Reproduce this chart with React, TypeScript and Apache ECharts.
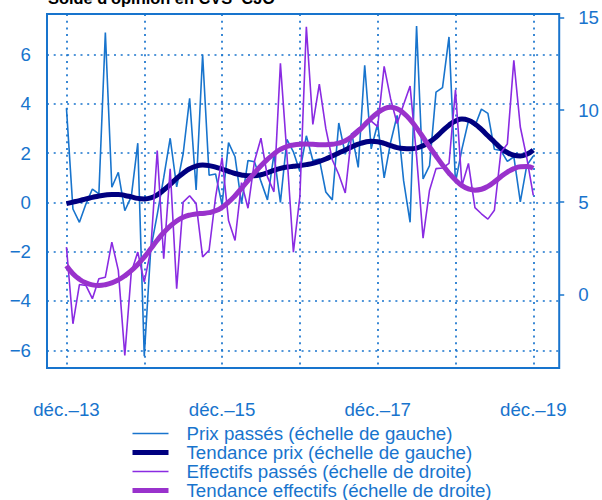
import React, { useEffect, useRef } from 'react';
import * as echarts from 'echarts';

// ---------- data ----------
const MONTH_ABBR = ['janv.', 'févr.', 'mars', 'avr.', 'mai', 'juin', 'juil.', 'août', 'sept.', 'oct.', 'nov.', 'déc.'];
const FIRST_CATEGORY_YEAR = 2013;
const FIRST_CATEGORY_MONTH = 8; // septembre 2013 (axis starts a little before the data)
const N_CATEGORIES = 80;
const DATA_OFFSET = 3; // data starts in déc. 2013

const X_TICK_LABELS = ['déc.–13', 'déc.–15', 'déc.–17', 'déc.–19'];
const LEFT_TICKS = [-6, -4, -2, 0, 2, 4, 6];
const RIGHT_TICKS = [0, 5, 10, 15];

const SERIES_NAMES = [
  'Prix passés (échelle de gauche)',
  'Tendance prix (échelle de gauche)',
  'Effectifs passés (échelle de droite)',
  'Tendance effectifs (échelle de droite)',
];

// déc. 2013 -> déc. 2019, monthly (73 values)
const prixPasses = [
  3.82, -0.27, -0.81, -0.07, 0.54, 0.34, 6.89, 0.61, 1.22, -0.34, 0.23, 2.4,
  -6.24, -1.9, -0.5, 1.0, 2.6, 0.63, 1.97, 4.22, 0.5, 6.0, 1.1, 1.15,
  -0.1, 2.42, 1.85, -0.05, 1.7, 1.65, 0.85, 0.1, 1.95, 0.0, 2.55, 2.05,
  1.25, 2.7, 1.7, 1.76, 0.42, 0.1, 3.22, 1.95, 2.8, 1.42, 5.56, 2.17,
  3.19, 0.99, 2.44, 3.53, 0.88, -0.81, 7.15, 0.95, 1.49, 4.47, 4.65, 6.71,
  0.81, 2.17, 3.3, 3.1, 3.78, 3.61, 2.15, 2.1, 1.66, 1.85, 0.02, 1.5,
  1.88,
];

const tendancePrix = [
  -0.05, 0.01, 0.07, 0.14, 0.2, 0.26, 0.3, 0.32, 0.32, 0.28, 0.22, 0.16,
  0.14, 0.18, 0.3, 0.5, 0.73, 0.97, 1.18, 1.36, 1.47, 1.51, 1.49, 1.43,
  1.35, 1.26, 1.17, 1.11, 1.08, 1.08, 1.12, 1.2, 1.3, 1.38, 1.43, 1.46,
  1.49, 1.53, 1.58, 1.66, 1.76, 1.88, 2.0, 2.12, 2.25, 2.36, 2.44, 2.48,
  2.46, 2.39, 2.3, 2.22, 2.18, 2.17, 2.2, 2.3, 2.45, 2.65, 2.9, 3.13,
  3.3, 3.38, 3.33, 3.18, 2.96, 2.7, 2.45, 2.2, 2.02, 1.91, 1.88, 1.95,
  2.12,
];

const effectifsPasses = [
  2.56, -1.6, 0.53, 0.48, -0.24, 0.84, 0.93, 2.83, 1.3, -3.32, 1.2, 2.29,
  0.66, 2.4, 7.8, 1.93, 6.81, 0.3, 5.0, 5.35, 4.92, 2.03, 2.39, 5.27,
  7.42, 4.0, 2.92, 6.06, 4.67, 7.22, 8.47, 6.37, 5.56, 12.53, 7.6, 2.29,
  5.3, 14.52, 9.22, 11.4, 9.0, 7.3, 6.5, 5.5, 8.7, 9.0, 9.2, 9.4,
  9.1, 12.37, 10.6, 9.27, 10.3, 11.3, 7.5, 3.05, 5.65, 6.82, 6.85, 7.1,
  11.1, 5.9, 7.1, 4.7, 4.37, 4.08, 4.56, 7.7, 8.16, 12.7, 9.08, 7.4,
  5.37,
];

const tendanceEffectifs = [
  1.55, 1.12, 0.82, 0.62, 0.51, 0.48, 0.52, 0.62, 0.78, 1.0, 1.28, 1.62,
  2.02, 2.47, 2.93, 3.35, 3.7, 3.98, 4.18, 4.3, 4.36, 4.39, 4.43, 4.53,
  4.72, 5.0, 5.35, 5.75, 6.17, 6.58, 6.97, 7.32, 7.62, 7.86, 8.02, 8.1,
  8.14, 8.15, 8.14, 8.12, 8.12, 8.14, 8.2, 8.33, 8.55, 8.85, 9.2, 9.55,
  9.85, 10.07, 10.15, 10.07, 9.83, 9.48, 9.03, 8.52, 8.0, 7.5, 7.02, 6.58,
  6.2, 5.9, 5.72, 5.65, 5.7, 5.86, 6.1, 6.38, 6.63, 6.82, 6.92, 6.93,
  6.84,
];

// ---------- helpers ----------
const BLUE = '#1874CD';
const NAVY = '#000080';
const VIOLET = '#8A2BE2';
const ORCHID = '#9932CC';
const FONT = '"Liberation Sans", Arial, Helvetica, sans-serif';

const SERIES_COLORS = [BLUE, NAVY, VIOLET, ORCHID];
const SERIES_WIDTHS = [1.6, 5, 1.6, 5];

const categories: string[] = [];
for (let k = 0; k < N_CATEGORIES; k++) {
  const m = FIRST_CATEGORY_MONTH + k;
  const month = m % 12;
  const year = FIRST_CATEGORY_YEAR + Math.floor(m / 12);
  categories.push(MONTH_ABBR[month] + '–' + String(year % 100).padStart(2, '0'));
}

const pad = (arr: number[]) => {
  const out: (number | null)[] = new Array(N_CATEGORIES).fill(null);
  arr.forEach((v, i) => {
    out[DATA_OFFSET + i] = v;
  });
  return out;
};

const fmtNum = (v: number) => (v < 0 ? '\u2212' + Math.abs(v) : String(v));
const isTick = (list: number[], v: number) => list.some((t) => Math.abs(t - v) < 1e-9);

const dotted = { color: BLUE, width: 1.7, type: [2, 4.7] as number[] };

export default function App() {
  const ref = useRef<HTMLDivElement>(null);

  useEffect(() => {
    if (!ref.current) return;
    const chart = echarts.init(ref.current, undefined, { renderer: 'svg' });

    const seriesData = [prixPasses, tendancePrix, effectifsPasses, tendanceEffectifs];
    const axisIndex = [0, 0, 1, 1];
    const smoothFlags = [false, true, false, true];

    const option: any = {
      animation: false,
      backgroundColor: '#ffffff',
      textStyle: { fontFamily: FONT },
      grid: {
        left: 47,
        top: 14,
        width: 516,
        height: 354,
        show: true,
        borderColor: BLUE,
        borderWidth: 2,
        backgroundColor: 'transparent',
        containLabel: false,
      },
      graphic: [
        {
          type: 'text',
          x: 48,
          y: -1.7,
          style: {
            text: "Solde d'opinion en CVS–CJO",
            fill: '#000000',
            font: 'bold 16.4px ' + FONT,
            verticalAlign: 'middle',
            align: 'left',
          },
        },
      ],
      legend: {
        orient: 'vertical',
        left: 130,
        top: 424,
        height: 100,
        width: 460,
        padding: 0,
        itemWidth: 36,
        itemHeight: 14,
        itemGap: 0,
        selectedMode: false,
        itemStyle: { opacity: 0 },
        textStyle: {
          color: BLUE,
          fontSize: 18.7,
          fontFamily: FONT,
          lineHeight: 19,
          padding: [0, 0, 0, 13],
        },
        data: SERIES_NAMES.map((name, i) => ({
          name,
          itemStyle: { opacity: 0 },
          lineStyle: { color: SERIES_COLORS[i], width: SERIES_WIDTHS[i] },
        })),
      },
      xAxis: {
        type: 'category',
        data: categories,
        boundaryGap: false,
        axisLine: { show: false },
        axisTick: { show: false },
        axisLabel: {
          color: BLUE,
          fontSize: 18.7,
          fontFamily: FONT,
          margin: 32,
          interval: (_i: number, value: string) => X_TICK_LABELS.includes(value),
        },
        splitLine: {
          show: true,
          interval: (_i: number, value: string) => value.startsWith('déc.'),
          lineStyle: dotted,
        },
      },
      yAxis: [
        {
          type: 'value',
          position: 'left',
          min: -6.72,
          max: 7.64,
          splitNumber: 7,
          axisLine: { show: false },
          axisTick: { show: false },
          axisLabel: {
            color: BLUE,
            fontSize: 18.7,
            fontFamily: FONT,
            margin: 16,
            showMinLabel: false,
            showMaxLabel: false,
            formatter: (v: number) => (isTick(LEFT_TICKS, v) ? fmtNum(v) : ''),
          },
          splitLine: { show: true, lineStyle: dotted },
        },
        {
          type: 'value',
          position: 'right',
          min: -4,
          max: 15.21,
          splitNumber: 4,
          axisLine: { show: false },
          axisTick: {
            show: true,
            length: 5,
            customValues: RIGHT_TICKS,
            lineStyle: { color: BLUE, width: 1.5 },
          },
          axisLabel: {
            color: BLUE,
            fontSize: 18.7,
            fontFamily: FONT,
            margin: 19,
            align: 'left',
            showMinLabel: false,
            showMaxLabel: false,
            formatter: (v: number) => (isTick(RIGHT_TICKS, v) ? fmtNum(v) : ''),
          },
          splitLine: { show: false },
        },
      ],
      series: SERIES_NAMES.map((name, i) => ({
        name,
        type: 'line',
        yAxisIndex: axisIndex[i],
        data: pad(seriesData[i]),
        symbol: 'none',
        smooth: smoothFlags[i],
        itemStyle: { color: SERIES_COLORS[i] },
        lineStyle: { color: SERIES_COLORS[i], width: SERIES_WIDTHS[i] },
      })),
    };

    chart.setOption(option);
    return () => {
      chart.dispose();
    };
  }, []);

  return (
    <div
      ref={ref}
      style={{ position: 'absolute', left: 0, top: 0, width: 602, height: 500 }}
    />
  );
}
